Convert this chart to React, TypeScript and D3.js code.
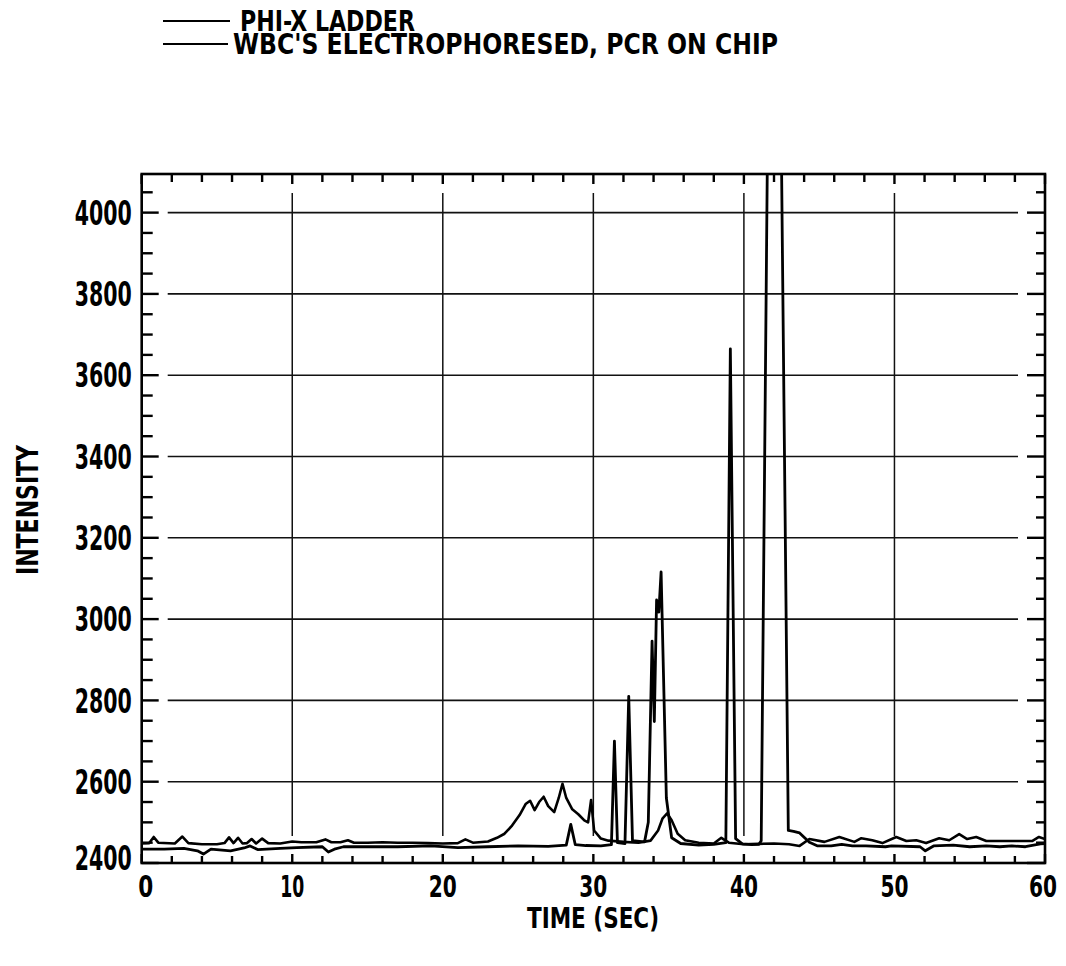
import React from "react";
import * as d3 from "d3";

// ---- data ----
const xTickValues = [0, 10, 20, 30, 40, 50, 60];
const yTickValues = [2400, 2600, 2800, 3000, 3200, 3400, 3600, 3800, 4000];
const legendLabels = ["PHI-X LADDER", "WBC'S ELECTROPHORESED, PCR ON CHIP"];

// PHI-X ladder (lower baseline, sharp peaks)
const ladderPoints: [number, number][] = [
  [0, 2434], [1.5, 2434], [2.8, 2436], [3.7, 2430], [4.1, 2422], [4.6, 2434],
  [5.9, 2430], [6.8, 2437], [7.2, 2442], [7.7, 2433], [9.2, 2436], [10.3, 2438],
  [12.0, 2440], [12.4, 2427], [12.8, 2434], [13.4, 2440], [14.7, 2440], [17.0, 2440],
  [19.2, 2442], [21, 2438], [23, 2440], [25, 2442], [27, 2441], [28.2, 2444],
  [28.5, 2495], [28.8, 2445], [29.5, 2443], [30.5, 2442], [31.2, 2445], [31.4, 2700],
  [31.6, 2450], [32.1, 2448], [32.35, 2810], [32.6, 2455], [33.4, 2452], [33.65, 2500],
  [33.9, 2946], [34.05, 2748], [34.2, 3047], [34.35, 3017], [34.5, 3116], [34.85, 2560],
  [35.2, 2462], [35.8, 2448], [37.0, 2444], [38.0, 2446], [38.8, 2450], [39.1, 3665],
  [39.45, 2460], [39.9, 2447], [40.5, 2445], [41.0, 2446], [41.15, 2455], [41.6, 4300],
  [42.45, 4300], [42.95, 2480], [43.3, 2478], [43.7, 2474], [44.35, 2451], [44.9, 2442],
  [45.8, 2442], [46.5, 2446], [47.2, 2442], [48.1, 2442], [49.4, 2440], [49.8, 2442],
  [51.7, 2440], [52.05, 2430], [52.6, 2442], [53.9, 2444], [55.0, 2440], [56.1, 2442],
  [57, 2440], [57.8, 2442], [58.7, 2440], [59.7, 2447], [60, 2448],
];

// WBC's electrophoresed, PCR on chip (upper baseline, broad bumps)
const wbcPoints: [number, number][] = [
  [0, 2448], [0.5, 2449], [0.8, 2464], [1.1, 2450], [2.2, 2448], [2.7, 2465],
  [3.1, 2449], [4.0, 2446], [5.0, 2446], [5.5, 2449], [5.8, 2463], [6.1, 2449],
  [6.4, 2462], [6.7, 2448], [7.0, 2449], [7.3, 2459], [7.6, 2448], [8.0, 2460],
  [8.4, 2449], [9.2, 2448], [10.0, 2453], [10.6, 2451], [11.6, 2451], [12.2, 2458],
  [12.6, 2451], [13.2, 2451], [13.7, 2456], [14.1, 2450], [15.0, 2450], [16.0, 2451],
  [17.0, 2450], [18.0, 2450], [19.0, 2449], [20.0, 2448], [21.0, 2449], [21.5, 2458],
  [22.0, 2450], [23.0, 2453], [23.6, 2462], [24.1, 2472], [24.6, 2492], [25.1, 2518],
  [25.5, 2545], [25.8, 2553], [26.1, 2530], [26.4, 2550], [26.7, 2563], [27.0, 2540],
  [27.4, 2525], [27.7, 2560], [27.95, 2595], [28.2, 2560], [28.6, 2532], [29.0, 2520],
  [29.4, 2505], [29.65, 2500], [29.85, 2555], [30.05, 2480], [30.5, 2460], [31.0, 2455],
  [32.0, 2452], [33.0, 2450], [33.8, 2455], [34.3, 2480], [34.6, 2510], [34.9, 2522],
  [35.2, 2505], [35.6, 2472], [36.1, 2456], [37.0, 2450], [38.0, 2448], [38.5, 2462],
  [39.0, 2450], [40.0, 2446], [41.0, 2447], [42.0, 2448], [43.0, 2446], [43.7, 2442],
  [44.35, 2459], [45.35, 2452], [46.34, 2464], [47.34, 2452], [47.8, 2461], [48.53, 2456],
  [49.2, 2449], [50.12, 2464], [50.79, 2454], [51.45, 2456], [52.1, 2449], [52.97, 2461],
  [53.64, 2456], [54.3, 2471], [54.83, 2459], [55.43, 2464], [56.1, 2454], [56.95, 2454],
  [58.28, 2454], [59.14, 2454], [59.6, 2464], [60, 2459],
];

const xMinorStep = 2;
const yMinorStep = 50;

const W = 1066;
const H = 966;
const FONT = "'Liberation Sans Narrow', 'DejaVu Sans Condensed', 'Liberation Sans', sans-serif";

export default function App() {
  // svg is pulled over the body margin so coordinates are page pixels
  const left = 141.7;
  const right = 1045;
  const top = 174;
  const bottom = 863;

  const x = d3.scaleLinear().domain([0, 60]).range([left, right]);
  const y = d3.scaleLinear().domain([2400, 4095]).range([bottom, top]);

  const line = d3
    .line<[number, number]>()
    .x((d) => x(d[0]))
    .y((d) => y(d[1]));

  const xMinor = d3.range(0, 60 + 0.001, xMinorStep);
  const yMinor = d3.range(2400, 4095, yMinorStep);

  const gridYTicks = yTickValues.filter((v) => v > 2400);
  const gridXTicks = xTickValues.filter((v) => v > 0 && v < 60);

  const xLabelWidth = (v: number) => (v === 0 ? 15 : v === 10 ? 24 : 28);

  return (
    <svg
      width={W}
      height={H}
      style={{ display: "block", background: "#fff", margin: "-8px 0 0 -8px" }}
    >
      <defs>
        <clipPath id="plotClip">
          <rect x={left} y={top} width={right - left} height={bottom - top} />
        </clipPath>
      </defs>

      {/* legend */}
      {legendLabels.map((lab, i) => (
        <g key={lab}>
          <line x1={163} x2={i === 0 ? 230 : 228} y1={21 + i * 23} y2={21 + i * 23} stroke="#000" strokeWidth={2.2} />
          <text
            x={i === 0 ? 240 : 233}
            y={21 + i * 23}
            dy="0.36em"
            fontFamily={FONT}
            fontWeight="bold"
            fontSize={29}
            textLength={i === 0 ? 175 : 545}
            lengthAdjust="spacingAndGlyphs"
            fill="#000"
          >
            {lab}
          </text>
        </g>
      ))}

      {/* grid */}
      {gridYTicks.map((v) => (
        <line key={"gy" + v} x1={left + 26} x2={right - 27} y1={y(v)} y2={y(v)} stroke="#111" strokeWidth={1.6} />
      ))}
      {gridXTicks.map((v) => (
        <line key={"gx" + v} x1={x(v)} x2={x(v)} y1={top + 19} y2={bottom - 27} stroke="#111" strokeWidth={1.5} />
      ))}

      {/* ticks */}
      {xMinor.map((v) => {
        const major = v % 10 === 0;
        return (
          <g key={"xt" + v}>
            <line x1={x(v)} x2={x(v)} y1={top} y2={top + (major ? 10 : 8)} stroke="#000" strokeWidth={2.4} />
            <line x1={x(v)} x2={x(v)} y1={bottom} y2={bottom - (major ? 9 : 7)} stroke="#000" strokeWidth={2.4} />
          </g>
        );
      })}
      {yMinor.map((v) => {
        const major = v % 200 === 0;
        return (
          <g key={"yt" + v}>
            <line x1={left} x2={left + (major ? 17 : 11)} y1={y(v)} y2={y(v)} stroke="#000" strokeWidth={2.4} />
            <line x1={right} x2={right - (major ? 18 : 9)} y1={y(v)} y2={y(v)} stroke="#000" strokeWidth={2.4} />
          </g>
        );
      })}

      {/* data */}
      <g clipPath="url(#plotClip)">
        <path d={line(wbcPoints) || ""} fill="none" stroke="#000" strokeWidth={2.6} strokeLinejoin="round" />
        <path d={line(ladderPoints) || ""} fill="none" stroke="#000" strokeWidth={2.8} strokeLinejoin="round" />
      </g>

      {/* frame */}
      <rect x={left} y={top} width={right - left} height={bottom - top} fill="none" stroke="#000" strokeWidth={2.6} />

      {/* tick labels */}
      {yTickValues.map((v) => (
        <text
          key={"yl" + v}
          x={left - 10}
          y={v === 2400 ? y(v) - 5 : y(v)}
          dy="0.36em"
          textAnchor="end"
          fontFamily={FONT}
          fontWeight="bold"
          fontSize={34}
          textLength={57}
          lengthAdjust="spacingAndGlyphs"
          fill="#000"
        >
          {v}
        </text>
      ))}
      {xTickValues.map((v) => (
        <text
          key={"xl" + v}
          x={v === 0 ? x(v) + 4 : v === 60 ? x(v) - 2 : x(v)}
          y={bottom + 23}
          dy="0.36em"
          textAnchor="middle"
          fontFamily={FONT}
          fontWeight="bold"
          fontSize={31}
          textLength={xLabelWidth(v)}
          lengthAdjust="spacingAndGlyphs"
          fill="#000"
        >
          {v}
        </text>
      ))}

      {/* axis titles */}
      <text
        x={593}
        y={918}
        dy="0.36em"
        textAnchor="middle"
        fontFamily={FONT}
        fontWeight="bold"
        fontSize={29}
        textLength={132}
        lengthAdjust="spacingAndGlyphs"
        fill="#000"
      >
        TIME (SEC)
      </text>
      <text
        transform={`translate(27,510) rotate(-90)`}
        dy="0.36em"
        textAnchor="middle"
        fontFamily={FONT}
        fontWeight="bold"
        fontSize={30}
        textLength={130}
        lengthAdjust="spacingAndGlyphs"
        fill="#000"
      >
        INTENSITY
      </text>
    </svg>
  );
}
